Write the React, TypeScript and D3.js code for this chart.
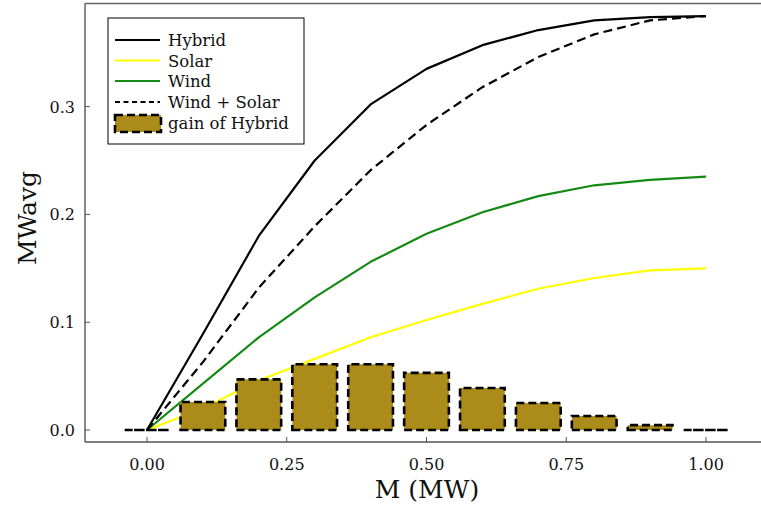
import React from "react";
import * as d3 from "d3";

const mValues = [0, 0.1, 0.2, 0.3, 0.4, 0.5, 0.6, 0.7, 0.8, 0.9, 1.0];
const hybrid = [0, 0.089, 0.180, 0.250, 0.302, 0.335, 0.357, 0.371, 0.380, 0.383, 0.384];
const solar = [0, 0.020, 0.046, 0.066, 0.086, 0.102, 0.117, 0.131, 0.141, 0.148, 0.150];
const wind = [0, 0.043, 0.086, 0.123, 0.156, 0.182, 0.202, 0.217, 0.227, 0.232, 0.235];
const windSolar = [0, 0.063, 0.132, 0.189, 0.241, 0.283, 0.318, 0.346, 0.367, 0.380, 0.384];
const gain = [0, 0.026, 0.047, 0.061, 0.061, 0.053, 0.039, 0.025, 0.013, 0.0045, 0];
const xTicks = [0, 0.25, 0.5, 0.75, 1.0];
const yTicks = [0, 0.1, 0.2, 0.3];
const legendLabels = ["Hybrid", "Solar", "Wind", "Wind + Solar", "gain of Hybrid"];

const W = 761;
const H = 506;
const FONT = "DejaVu Serif, serif";
const BAR_FILL = "#AB8B1A";

export default function App() {
  const x = d3.scaleLinear().domain([0, 1]).range([147, 706]);
  const y = d3.scaleLinear().domain([0, 0.3]).range([430, 106.6]);
  const frame = { left: 85, top: 3.5, right: 761, bottom: 442 };

  const line = (vals: number[]) =>
    d3.line<number>().x((_, i) => x(mValues[i])).y((v) => y(v))(vals) || "";

  const barW = 0.08;
  const bars = mValues.map((m, i) => {
    const x0 = x(m - barW / 2);
    const x1 = x(m + barW / 2);
    const y0 = y(0);
    const y1 = y(gain[i]);
    return `M${x0},${y0}H${x1}V${y1}H${x0}Z`;
  });

  const series = [
    { vals: hybrid, color: "#000", dash: undefined },
    { vals: solar, color: "#FFFF00", dash: undefined },
    { vals: wind, color: "#148A14", dash: undefined },
    { vals: windSolar, color: "#000", dash: "9,5" },
  ];

  const legendY = [40, 60.5, 81, 102, 123];
  const txt = { fontFamily: FONT } as React.CSSProperties;

  return (
    <svg width={W} height={H} style={{ display: "block", position: "absolute", left: 0, top: 0 }}>
      <rect x={0} y={0} width={W} height={H} fill="#fff" />
      {series.map((s, i) => (
        <path
          key={i}
          d={line(s.vals)}
          fill="none"
          stroke={s.color}
          strokeWidth={2.2}
          strokeDasharray={s.dash}
          strokeLinejoin="round"
        />
      ))}
      {bars.map((d, i) => (
        <path key={i} d={d} fill={BAR_FILL} stroke="#000" strokeWidth={2.6} strokeDasharray="8,4" />
      ))}
      <line x1={frame.left} x2={frame.right} y1={frame.top} y2={frame.top} stroke="#666" strokeWidth={1.4} />
      <line x1={frame.left} x2={frame.right} y1={frame.bottom} y2={frame.bottom} stroke="#555" strokeWidth={1.4} />
      <line x1={frame.left} x2={frame.left} y1={frame.top} y2={frame.bottom} stroke="#555" strokeWidth={1.4} />
      {xTicks.map((t) => (
        <g key={t}>
          <line x1={x(t)} x2={x(t)} y1={frame.bottom} y2={frame.bottom - 5} stroke="#555" strokeWidth={1} />
          <text x={x(t)} y={470} textAnchor="middle" style={txt} fontSize={16} fill="#111">
            {t.toFixed(2)}
          </text>
        </g>
      ))}
      {yTicks.map((t) => (
        <g key={t}>
          <line x1={frame.left} x2={frame.left + 5} y1={y(t)} y2={y(t)} stroke="#555" strokeWidth={1} />
          <text x={75} y={y(t) + 6} textAnchor="end" style={txt} fontSize={16} fill="#111">
            {t.toFixed(1)}
          </text>
        </g>
      ))}
      <text x={427} y={498} textAnchor="middle" style={txt} fontSize={25} fill="#111">
        M (MW)
      </text>
      <text
        transform={`translate(36,218) rotate(-90)`}
        textAnchor="middle"
        style={txt}
        fontSize={25}
        fill="#111"
      >
        MWavg
      </text>
      <rect x={108} y={18} width={196} height={126} fill="#fff" stroke="#000" strokeWidth={1} />
      {legendLabels.map((lab, i) => {
        const cy = legendY[i];
        return (
          <g key={lab}>
            {i < 4 ? (
              <line
                x1={115}
                x2={160}
                y1={cy}
                y2={cy}
                stroke={series[i].color}
                strokeWidth={2}
                strokeDasharray={series[i].dash ? "5,3.5" : undefined}
              />
            ) : (
              <rect x={115} y={cy - 8} width={46} height={17} fill={BAR_FILL} stroke="#000" strokeWidth={2.6} strokeDasharray="8,4" />
            )}
            <text x={168} y={cy + 6} style={txt} fontSize={16.5} fill="#111">
              {lab}
            </text>
          </g>
        );
      })}
    </svg>
  );
}
